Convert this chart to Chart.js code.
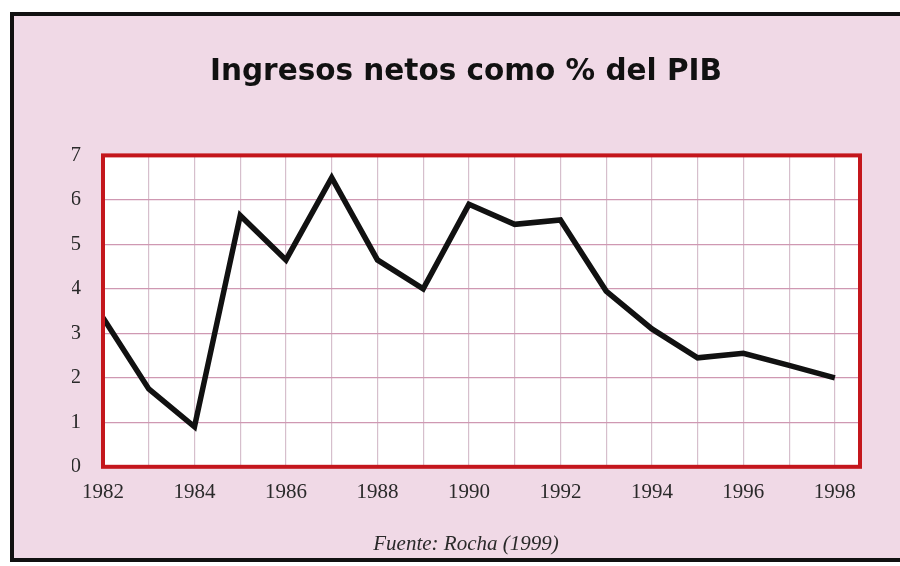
<!DOCTYPE html>
<html>
<head>
<meta charset="utf-8">
<script src="https://cdn.jsdelivr.net/npm/chart.js@4"></script>
<style>
    body { margin: 0; background: #fff; }
    #frame {
        position: absolute; left: 10px; top: 12px; width: 886px; height: 542px;
        background: #f0d9e6;
        border-left: 4px solid #111; border-top: 4px solid #111; border-bottom: 4px solid #111;
    }
    #frame canvas { display: block; }
</style>
</head>
<body>
<div id="frame"><canvas id="ingresosChart" width="886" height="542"></canvas></div>
<script>
const years = [1982, 1983, 1984, 1985, 1986, 1987, 1988, 1989, 1990, 1991, 1992, 1993, 1994, 1995, 1996, 1997, 1998];
const ingresos = [3.35, 1.75, 0.9, 5.65, 4.65, 6.5, 4.65, 4.0, 5.9, 5.45, 5.55, 3.95, 3.1, 2.45, 2.55, 2.28, 2.0];
const yTicks = [0, 1, 2, 3, 4, 5, 6, 7];
const xLabelYears = [1982, 1984, 1986, 1988, 1990, 1992, 1994, 1996, 1998];

// white plot area with red frame
const plotBox = {
    id: 'plotBox',
    beforeDraw(chart) {
        const { ctx, chartArea: a } = chart;
        ctx.save();
        ctx.fillStyle = '#ffffff';
        ctx.fillRect(a.left, a.top, a.right - a.left, a.bottom - a.top);
        ctx.restore();
    },
    afterDraw(chart) {
        const { ctx, chartArea: a } = chart;
        ctx.save();
        ctx.strokeStyle = '#c4161c';
        ctx.lineWidth = 4;
        ctx.strokeRect(a.left, a.top, a.right - a.left, a.bottom - a.top);
        ctx.restore();
    }
};

const ctx = document.getElementById('ingresosChart').getContext('2d');

new Chart(ctx, {
    type: 'line',
    data: {
        datasets: [{
            data: years.map((y, i) => ({ x: y, y: ingresos[i] })),
            borderColor: '#111111',
            borderWidth: 5.5,
            borderJoinStyle: 'miter',
            pointRadius: 0,
            tension: 0
        }]
    },
    options: {
        responsive: false,
        animation: false,
        layout: { padding: { left: 58, right: 40, top: 0, bottom: 0 } },
        plugins: {
            legend: { display: false },
            tooltip: { enabled: false },
            title: {
                display: true,
                text: 'Ingresos netos como % del PIB',
                color: '#111',
                font: { family: 'DejaVu Sans', size: 29.5, weight: 'bold' },
                padding: { top: 39, bottom: 65 }
            },
            subtitle: {
                display: true,
                position: 'bottom',
                text: 'Fuente: Rocha (1999)',
                color: '#2a2a2a',
                font: { family: 'Liberation Serif', size: 21, style: 'italic' },
                padding: { top: 23, bottom: 1 }
            }
        },
        scales: {
            x: {
                type: 'linear',
                min: 1982,
                max: 1998.55,
                afterBuildTicks(scale) {
                    scale.ticks = years.map(v => ({ value: v }));
                },
                afterFit(scale) { scale.height = 42; },
                grid: { color: '#d6bfcc', lineWidth: 1.2, drawTicks: false },
                border: { display: false },
                ticks: {
                    color: '#2a2a2a',
                    padding: 13,
                    autoSkip: false,
                    maxRotation: 0,
                    font: { family: 'Liberation Serif', size: 21 },
                    callback: v => xLabelYears.includes(v) ? String(v) : ''
                }
            },
            y: {
                min: 0,
                max: 7,
                afterBuildTicks(scale) {
                    scale.ticks = yTicks.map(v => ({ value: v }));
                },
                afterFit(scale) { scale.width = 31; },
                grid: { color: '#cf98b2', lineWidth: 1.3, drawTicks: false },
                border: { display: false },
                ticks: {
                    color: '#2a2a2a',
                    padding: 22,
                    font: { family: 'Liberation Serif', size: 21 }
                }
            }
        }
    },
    plugins: [plotBox]
});
</script>
</body>
</html>
